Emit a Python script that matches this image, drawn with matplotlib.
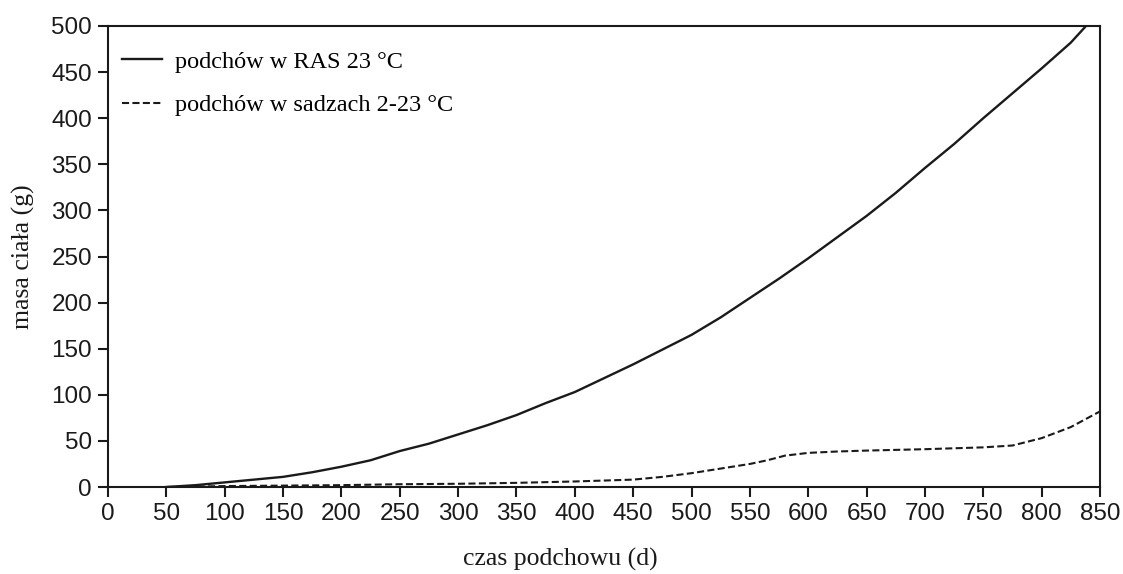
import matplotlib
matplotlib.use('Agg')
import matplotlib.pyplot as plt
import numpy as np

# Values
days_ras = [50, 75, 100, 125, 150, 175, 200, 225, 250, 275, 300, 325, 350, 375, 400,
            425, 450, 475, 500, 525, 550, 575, 600, 625, 650, 675, 700, 725, 750,
            775, 800, 825, 838]
mass_ras = [0, 2, 5, 8, 11, 16, 22, 29, 39, 47, 57, 67, 78, 91, 103,
            118, 133, 149, 165, 184, 205, 226, 248, 271, 294, 319, 346, 372, 400,
            427, 454, 482, 500]

days_pond = [50, 100, 150, 200, 250, 300, 350, 400, 450, 475, 500, 525, 550, 565, 580,
             600, 625, 650, 700, 750, 775, 800, 825, 850]
mass_pond = [0, 1, 1.5, 2, 3, 3.5, 4.5, 6, 8, 11, 15, 20, 25, 29, 34,
             37, 38.5, 39.5, 41, 43, 45, 53, 65, 82]

x_ticks = np.arange(0, 851, 50)
y_ticks = np.arange(0, 501, 50)

serif = ['Liberation Serif', 'DejaVu Serif']
sans = ['Liberation Sans', 'DejaVu Sans']
ink = '#1a1a1a'

fig, ax = plt.subplots(figsize=(11.23, 5.74), dpi=100)
fig.subplots_adjust(left=108 / 1123, right=1100 / 1123, bottom=1 - 487 / 574, top=1 - 26 / 574)

ax.plot(days_ras, mass_ras, color=ink, lw=1.7, label='podchów w RAS 23 °C')
ax.plot(days_pond, mass_pond, color=ink, lw=1.5, linestyle=(0, (3.4, 1.6)),
        label='podchów w sadzach 2-23 °C')

ax.set_xlim(0, 850)
ax.set_ylim(0, 500)
ax.set_xticks(x_ticks)
ax.set_yticks(y_ticks)
ax.tick_params(direction='out', length=7.5, width=1.5, labelsize=17.5, pad=4, colors=ink)
for lbl in ax.get_xticklabels() + ax.get_yticklabels():
  lbl.set_family(sans)
for s in ax.spines.values():
  s.set_linewidth(1.5)
  s.set_color(ink)

# Axis titles (the x title sits a bit left of centre in the original)
ax.set_xlabel('czas podchowu (d)', family=serif, fontsize=18.5, color=ink)
ax.set_ylabel('masa ciała (g)', family=serif, fontsize=18.5, color=ink)
ax.xaxis.set_label_coords(0.4556, -0.133)
ax.yaxis.set_label_coords(-0.0736, 0.5)

ax.legend(loc='upper left', frameon=False, prop={'family': serif, 'size': 17.5},
          handlelength=1.65, handletextpad=0.55, labelspacing=0.87,
          borderpad=0, borderaxespad=0, bbox_to_anchor=(0.0141, 0.946))

fig.savefig('out.png', dpi=100)
